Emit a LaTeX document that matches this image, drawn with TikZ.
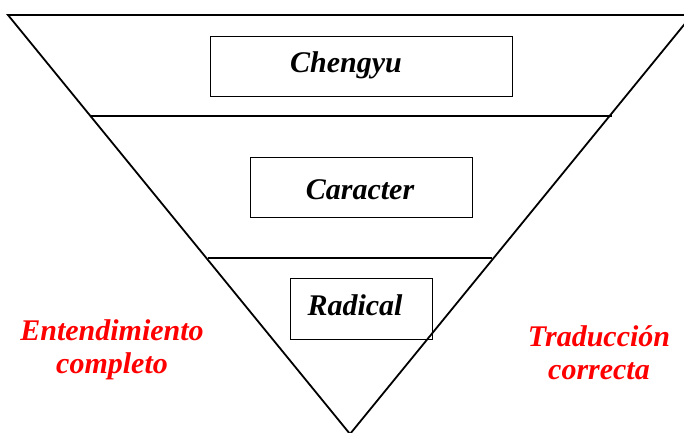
\documentclass[tikz,border=0pt]{standalone}
\usepackage{fontspec}
\setmainfont{Liberation Serif}

\begin{document}
\begin{tikzpicture}[x=1pt,y=-1pt]
        \tikzstyle{level}=[draw=black,line width=0.8pt,inner sep=0pt]
        \tikzstyle{word}=[font=\fontsize{30}{32}\selectfont\bfseries\itshape,inner sep=0pt]
        \tikzstyle{side}=[font=\fontsize{30}{33}\selectfont\bfseries\itshape,text=red,align=center,inner sep=0pt]
        \useasboundingbox (0,0) rectangle (684,432);
        \node (a) at (8,15) {};
        \node (b) at (692,15) {};
        \node (v) at (350,434) {};
        \node (l1) at (91,116) {};
        \node (r1) at (612,116) {};
        \node (l2) at (208,258) {};
        \node (r2) at (492,258) {};
        \begin{scope}
        \clip (0,0) rectangle (684,432);
        \draw[line width=1.8pt] (a.center) -- (b.center) -- (v.center) -- cycle;
        \end{scope}
        \draw[line width=1.6pt] (l1.center) -- (r1.center);
        \draw[line width=1.6pt] (l2.center) -- (r2.center);
        % levels
        \node[level,minimum width=302pt,minimum height=60pt] (chengyu) at (361,66) {};
        \node[level,minimum width=222pt,minimum height=60pt] (caracter) at (361,187) {};
        \node[level,minimum width=142pt,minimum height=61pt] (radical) at (361,308.5) {};
        \node[word] (t1) at (346,65) {Chengyu};
        \node[word] (t2) at (360,190) {Caracter};
        \node[word] (t3) at (355,305) {Radical};
        % sides
        \node[side] (izq) at (112,350) {Entendimiento\\completo};
        \node[side] (der) at (599,353) {Traducción\\correcta};
\end{tikzpicture}
\end{document}
